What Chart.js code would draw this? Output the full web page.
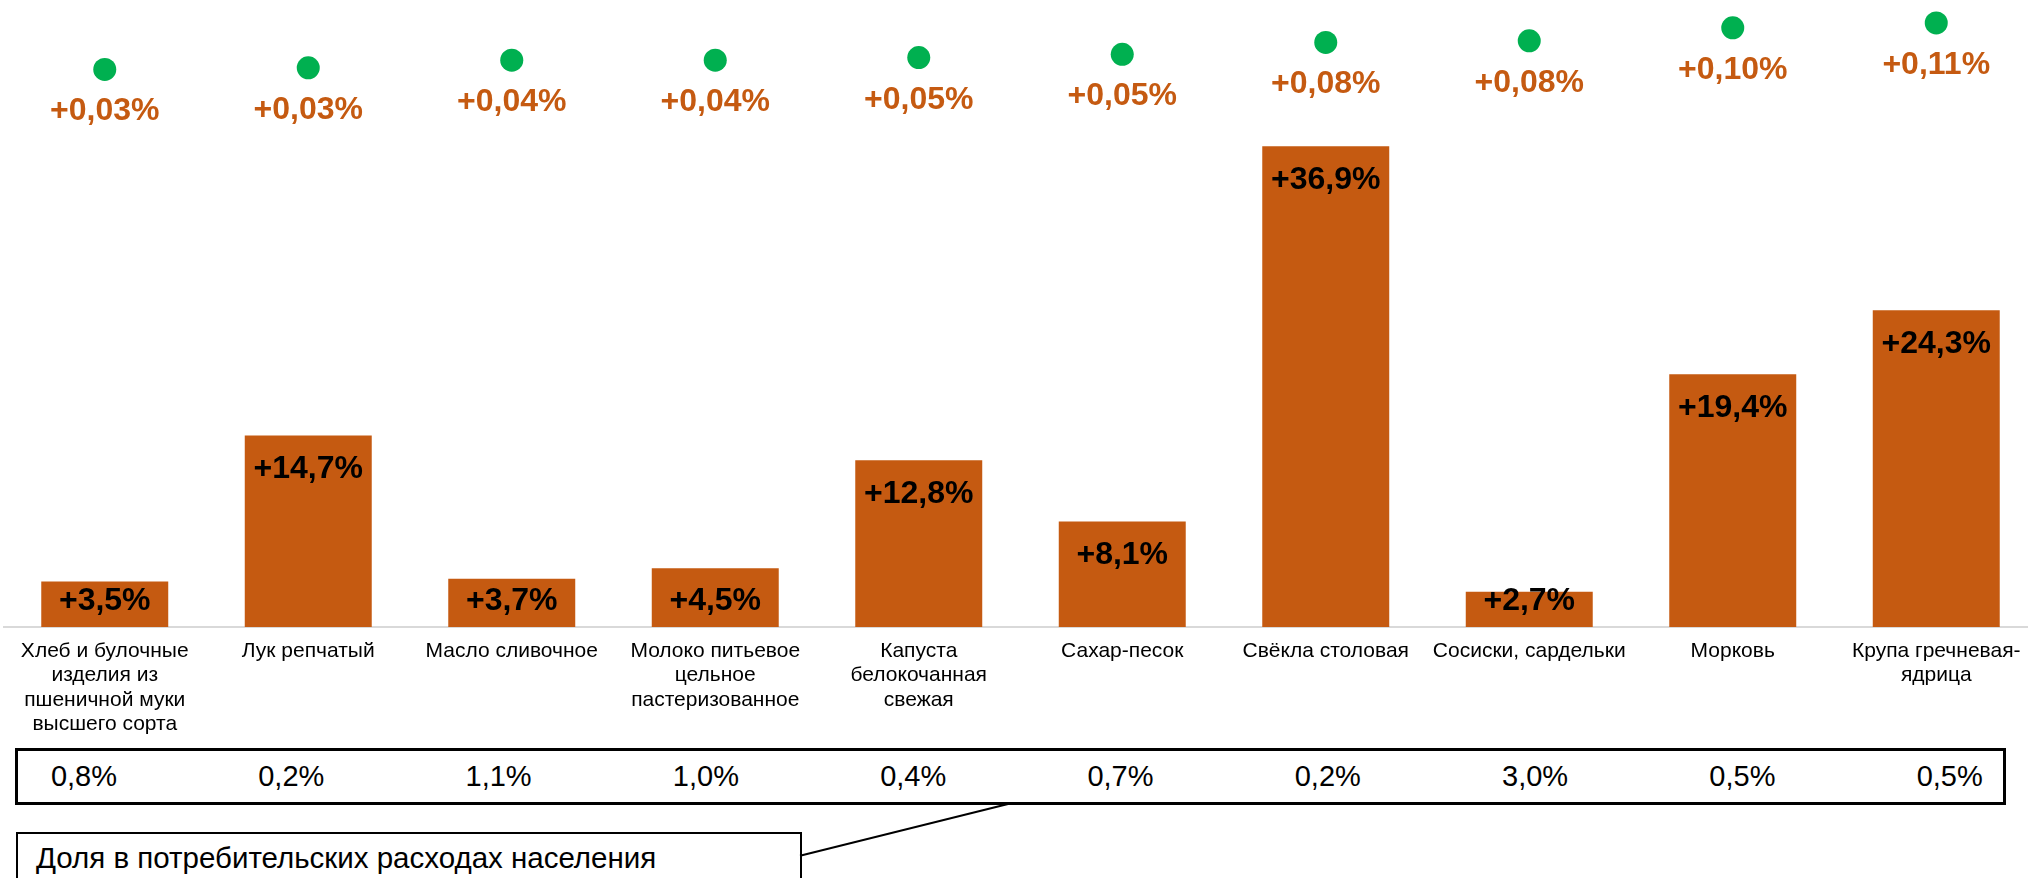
<!DOCTYPE html>
<html>
<head>
<meta charset="utf-8">
<script src="https://cdn.jsdelivr.net/npm/chart.js@4.4.1/dist/chart.umd.min.js"></script>
<style>
  html, body { margin: 0; padding: 0; background: #fff; overflow: hidden; }
  body { width: 2028px; height: 878px; position: relative; font-family: "Liberation Sans", Arial, sans-serif; }
  #wrap { position: absolute; left: 3px; top: 0; width: 2035px; height: 747px; }
  #shareBox { position: absolute; left: 15px; top: 748px; width: 1985px; height: 51px; border: 3px solid #000; box-sizing: content-box; }
  .share { position: absolute; top: 0; width: 200px; height: 51px; line-height: 51px; text-align: center; font-size: 29px; color: #000; }
  #note { position: absolute; left: 16px; top: 832px; width: 782px; height: 60px; border: 2px solid #000; font-size: 29.5px; color: #000; }
  #note span { position: absolute; left: 18px; top: 9px; line-height: 1; white-space: nowrap; }
  #leader { position: absolute; left: 0; top: 0; width: 2028px; height: 878px; pointer-events: none; }
</style>
</head>
<body>
<div id="wrap"><canvas id="priceChart"></canvas></div>
<div id="shareBox"></div>
<div id="note"><span>Доля в потребительских расходах населения</span></div>
<svg id="leader"><line x1="800" y1="855.7" x2="1008" y2="804" stroke="#000" stroke-width="2"/></svg>
<script>
  // categories
  const categories = [
    ['Хлеб и булочные', 'изделия из', 'пшеничной муки', 'высшего сорта'],
    'Лук репчатый',
    'Масло сливочное',
    ['Молоко питьевое', 'цельное', 'пастеризованное'],
    ['Капуста', 'белокочанная', 'свежая'],
    'Сахар-песок',
    'Свёкла столовая',
    'Сосиски, сардельки',
    'Морковь',
    ['Крупа гречневая-', 'ядрица']
  ];
  // price growth, %
  const priceGrowth = [3.5, 14.7, 3.7, 4.5, 12.8, 8.1, 36.9, 2.7, 19.4, 24.3];
  // contribution to inflation, p.p.
  const contribution = [0.026, 0.029, 0.043, 0.043, 0.048, 0.054, 0.076, 0.079, 0.103, 0.112];
  // share in consumer spending, %
  const shareInSpending = [0.8, 0.2, 1.1, 1.0, 0.4, 0.7, 0.2, 3.0, 0.5, 0.5];

  const orange = '#C55A11';
  const green = '#00B050';
  const fontFamily = '"Liberation Sans", Arial, sans-serif';

  const fmt = (v, d) => v.toFixed(d).replace('.', ',');

  // share row
  const shareBox = document.getElementById('shareBox');
  shareInSpending.forEach((v, i) => {
    const el = document.createElement('div');
    el.className = 'share';
    el.style.left = (66 + i * 207.3 - 100) + 'px';
    el.textContent = fmt(v, 1) + '%';
    shareBox.appendChild(el);
  });

  // labels for bars and points
  const labelPlugin = {
    id: 'valueLabels',
    afterDatasetsDraw(chart) {
      const ctx = chart.ctx;
      const base = chart.scales.y.getPixelForValue(0);
      ctx.save();
      ctx.textAlign = 'center';
      ctx.textBaseline = 'alphabetic';
      ctx.font = 'bold 32px ' + fontFamily;

      ctx.fillStyle = '#000';
      chart.getDatasetMeta(0).data.forEach((bar, i) => {
        const y = Math.min(bar.y + 43, base - 17.5);
        ctx.fillText('+' + fmt(priceGrowth[i], 1) + '%', bar.x, y);
      });

      ctx.fillStyle = orange;
      chart.getDatasetMeta(1).data.forEach((pt, i) => {
        ctx.fillText('+' + fmt(contribution[i], 2) + '%', pt.x, pt.y + 51);
      });
      ctx.restore();
    }
  };

  const ctxEl = document.getElementById('priceChart');
  const priceChart = new Chart(ctxEl, {
    data: {
      labels: categories,
      datasets: [{
        type: 'bar',
        label: 'Прирост цен',
        data: priceGrowth,
        backgroundColor: orange,
        borderWidth: 0,
        barPercentage: 0.624,
        categoryPercentage: 1.0,
        yAxisID: 'y',
        order: 2
      }, {
        type: 'line',
        label: 'Вклад в инфляцию',
        data: contribution,
        showLine: false,
        pointRadius: 11.5,
        pointHoverRadius: 11.5,
        pointBackgroundColor: green,
        pointBorderWidth: 0,
        yAxisID: 'y2',
        order: 1
      }]
    },
    options: {
      responsive: true,
      maintainAspectRatio: false,
      animation: false,
      layout: { padding: 0, autoPadding: false },
      plugins: {
        legend: { display: false },
        tooltip: { enabled: false },
        title: { display: false }
      },
      scales: {
        x: {
          offset: true,
          grid: { display: false, drawTicks: false },
          border: { display: true, color: '#D9D9D9', width: 2 },
          ticks: {
            color: '#000',
            font: { family: fontFamily, size: 21, lineHeight: 1.157 },
            padding: 12,
            maxRotation: 0,
            minRotation: 0,
            autoSkip: false
          },
          afterFit: (s) => {
            s.height = 120;
            s.paddingLeft = 0;
            s.paddingRight = 0;
          }
        },
        y: {
          display: false,
          min: 0,
          max: 48.12
        },
        y2: {
          display: false,
          min: -1.00657,
          max: 0.15454
        }
      }
    },
    plugins: [labelPlugin]
  });
</script>
</body>
</html>
